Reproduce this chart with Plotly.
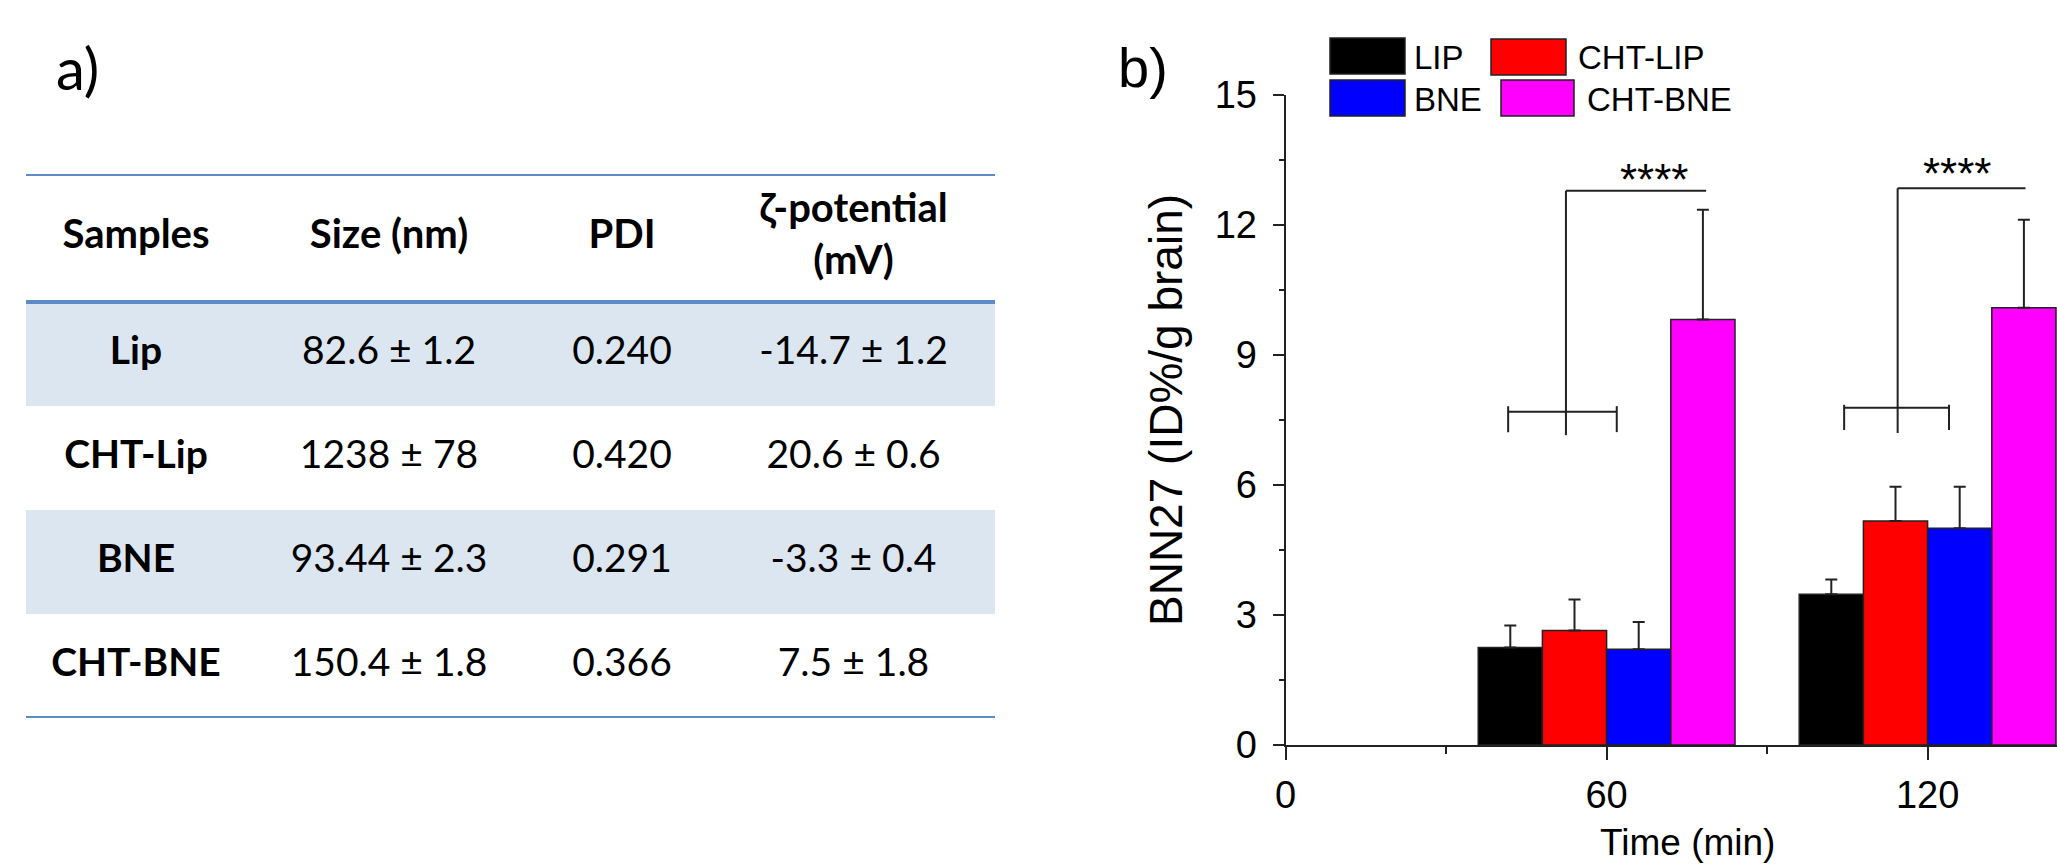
import plotly.graph_objects as go

# ---------------- data: panel a (table) ----------------
table_headers = ["Samples", "Size (nm)", "PDI", "ζ-potential<br>(mV)"]
samples = ["Lip", "CHT-Lip", "BNE", "CHT-BNE"]
size_nm = ["82.6 ± 1.2", "1238 ± 78", "93.44 ± 2.3", "150.4 ± 1.8"]
pdi = ["0.240", "0.420", "0.291", "0.366"]
zeta_mv = ["-14.7 ± 1.2", "20.6 ± 0.6", "-3.3 ± 0.4", "7.5 ± 1.8"]

# ---------------- data: panel b (bars) ----------------
time_min = [60, 120]
series_names = ["LIP", "CHT-LIP", "BNE", "CHT-BNE"]
lip_mean = [2.25, 3.48]
lip_err = [0.51, 0.34]
cht_lip_mean = [2.64, 5.17]
cht_lip_err = [0.72, 0.79]
bne_mean = [2.21, 5.00]
bne_err = [0.63, 0.96]
cht_bne_mean = [9.82, 10.09]
cht_bne_err = [2.53, 2.03]
x_ticks = [0, 60, 120]
y_ticks = [0, 3, 6, 9, 12, 15]
significance = ["****", "****"]

# ---------------- styling ----------------
W, H = 2057, 865
colors = ["#000000", "#FF0000", "#0000FF", "#FF00FF"]
AX = "#222222"
ARIAL = "Liberation Sans, Arial, sans-serif"
CAL = "Lato, Open Sans, sans-serif"
RULE = "#5E8AC7"
SHADE = "#DCE6F1"


def px(x):
    return x / W


def py(y):
    return 1 - y / H


fig = go.Figure()

means = [lip_mean, cht_lip_mean, bne_mean, cht_bne_mean]
errs = [lip_err, cht_lip_err, bne_err, cht_bne_err]
for name, m, e, c in zip(series_names, means, errs, colors):
    fig.add_trace(go.Bar(
        x=time_min, y=m, name=name, showlegend=False,
        marker=dict(color=c, line=dict(color=AX, width=1.5)),
        error_y=dict(type="data", array=e, arrayminus=[0] * len(e), symmetric=False,
                     color=AX, thickness=2, width=6),
        xaxis="x", yaxis="y", hoverinfo="x+y+name",
    ))

# ---------------- table (panel a) on hidden axes ----------------
col_widths = [220, 286, 180, 283]
header_h, row_h = 128, 104
col_centers = []
acc = 0
for w in col_widths:
    col_centers.append(acc + w / 2)
    acc += w
table_w = acc
table_h = header_h + row_h * len(samples)
row_centers = [header_h + row_h * (i + 0.5) for i in range(len(samples))]

fig.add_trace(go.Scatter(
    x=col_centers, y=[header_h / 2] * len(table_headers),
    text=["<b>%s</b>" % h for h in table_headers], mode="text",
    textposition="middle center",
    textfont=dict(family=CAL, size=40, color="#000000"),
    xaxis="x2", yaxis="y2", showlegend=False, hoverinfo="skip",
))
body_x, body_y, body_t = [], [], []
for ri, row in enumerate(zip(samples, size_nm, pdi, zeta_mv)):
    for ci, val in enumerate(row):
        body_x.append(col_centers[ci])
        body_y.append(row_centers[ri])
        body_t.append("<b>%s</b>" % val if ci == 0 else val)
fig.add_trace(go.Scatter(
    x=body_x, y=body_y, text=body_t, mode="text", textposition="middle center",
    textfont=dict(family=CAL, size=39, color="#000000"),
    xaxis="x2", yaxis="y2", showlegend=False, hoverinfo="skip",
))

shapes = []
for ri in range(len(samples)):
    if ri % 2 == 0:
        y0 = header_h + row_h * ri
        shapes.append(dict(type="rect", xref="x2", yref="y2", x0=0, x1=table_w,
                           y0=y0, y1=y0 + row_h, fillcolor=SHADE, line=dict(width=0),
                           layer="below"))
for yv in [0, header_h, table_h]:
    shapes.append(dict(type="line", xref="x2", yref="y2", x0=0, x1=table_w,
                       y0=yv, y1=yv, line=dict(color=RULE, width=4)))

# ---------------- significance brackets (panel b) ----------------
brackets = [
    dict(l=41.6, c=52.4, r=61.9, low=7.69, tb=7.22, tt=7.82, top=12.79, end=78.6,
         sx=68.9, sy=13.05),
    dict(l=104.4, c=114.4, r=124.0, low=7.78, tb=7.27, tt=7.85, top=12.85, end=138.3,
         sx=125.6, sy=13.2),
]
annotations = []
for b, s in zip(brackets, significance):
    line = dict(color=AX, width=2)
    shapes += [
        dict(type="line", xref="x", yref="y", x0=b["l"], x1=b["r"], y0=b["low"], y1=b["low"], line=line),
        dict(type="line", xref="x", yref="y", x0=b["l"], x1=b["l"], y0=b["tb"], y1=b["tt"], line=line),
        dict(type="line", xref="x", yref="y", x0=b["r"], x1=b["r"], y0=b["tb"], y1=b["tt"], line=line),
        dict(type="line", xref="x", yref="y", x0=b["c"], x1=b["c"], y0=b["tb"] - 0.07, y1=b["top"], line=line),
        dict(type="line", xref="x", yref="y", x0=b["c"], x1=b["end"], y0=b["top"], y1=b["top"], line=line),
    ]
    annotations.append(dict(x=b["sx"], y=b["sy"], xref="x", yref="y", text=s, showarrow=False,
                            font=dict(family=ARIAL, size=44, color="#000000"),
                            xanchor="center", yanchor="middle"))

# ---------------- manual legend (panel b) ----------------
legend_boxes = [
    (1330, 1405, 38, 74, 1412, 57),
    (1491, 1566, 39, 75, 1576, 57),
    (1330, 1405, 80, 116, 1412, 99),
    (1501, 1574, 80, 116, 1585, 99),
]
for (x0, x1, y0, y1, tx, ty), name, c in zip(legend_boxes, series_names, colors):
    shapes.append(dict(type="rect", xref="paper", yref="paper", x0=px(x0), x1=px(x1),
                       y0=py(y1), y1=py(y0), fillcolor=c, line=dict(color=AX, width=1.5)))
    annotations.append(dict(x=px(tx), y=py(ty), xref="paper", yref="paper", text=name,
                            showarrow=False, xanchor="left", yanchor="middle",
                            font=dict(family=ARIAL, size=33, color="#000000")))

# ---------------- panel labels & axis titles ----------------
annotations += [
    dict(x=px(77), y=py(68), xref="paper", yref="paper", text="a)", showarrow=False,
         xanchor="center", yanchor="middle", font=dict(family=CAL, size=58, color="#000000")),
    dict(x=px(1143), y=py(68), xref="paper", yref="paper", text="b)", showarrow=False,
         xanchor="center", yanchor="middle", font=dict(family=ARIAL, size=56, color="#000000")),
    dict(x=px(1166), y=py(410), xref="paper", yref="paper", text="BNN27 (ID%/g brain)",
         showarrow=False, textangle=-90, xanchor="center", yanchor="middle",
         font=dict(family=ARIAL, size=46, color="#000000")),
    dict(x=px(1687), y=py(864), xref="paper", yref="paper", text="Time (min)",
         showarrow=False, xanchor="center", yanchor="bottom", borderpad=0,
         font=dict(family=ARIAL, size=37, color="#000000")),
]

x_left = 1285.6
x_scale = 321 / 60.0
fig.update_layout(
    width=W, height=H, autosize=False,
    margin=dict(l=0, r=0, t=0, b=0, pad=0, autoexpand=False),
    paper_bgcolor="white", plot_bgcolor="white",
    barmode="group", bargap=0.2, bargroupgap=0,
    showlegend=False,
    xaxis=dict(
        domain=[px(x_left), 1.0], range=[0, (W - x_left) / x_scale],
        tickvals=x_ticks, ticks="outside", ticklen=13, tickwidth=2, tickcolor=AX,
        minor=dict(dtick=30, tick0=0, ticks="outside", ticklen=7, tickwidth=2, tickcolor=AX),
        showline=True, linecolor=AX, linewidth=2, showgrid=False, zeroline=False,
        tickfont=dict(family=ARIAL, size=38, color="#000000"), ticklabelstandoff=2,
        anchor="y", fixedrange=True, automargin=False,
    ),
    yaxis=dict(
        domain=[py(745), py(95)], range=[0, 15],
        tickvals=y_ticks, ticks="outside", ticklen=11, tickwidth=2, tickcolor=AX,
        minor=dict(dtick=1.5, tick0=0, ticks="outside", ticklen=5, tickwidth=2, tickcolor=AX),
        showline=True, linecolor=AX, linewidth=2, showgrid=False, zeroline=False,
        tickfont=dict(family=ARIAL, size=38, color="#000000"), ticklabelstandoff=8,
        anchor="x", fixedrange=True, automargin=False,
    ),
    xaxis2=dict(domain=[px(26), px(26 + table_w)], range=[0, table_w], visible=False,
                anchor="y2", fixedrange=True, automargin=False),
    yaxis2=dict(domain=[py(174 + table_h), py(174)], range=[table_h, 0], visible=False,
                anchor="x2", fixedrange=True, automargin=False),
    shapes=shapes,
    annotations=annotations,
)

fig.write_html("out.html", config={"displayModeBar": False, "responsive": False},
               post_script="document.body.style.margin='0';document.body.style.overflow='hidden';")
